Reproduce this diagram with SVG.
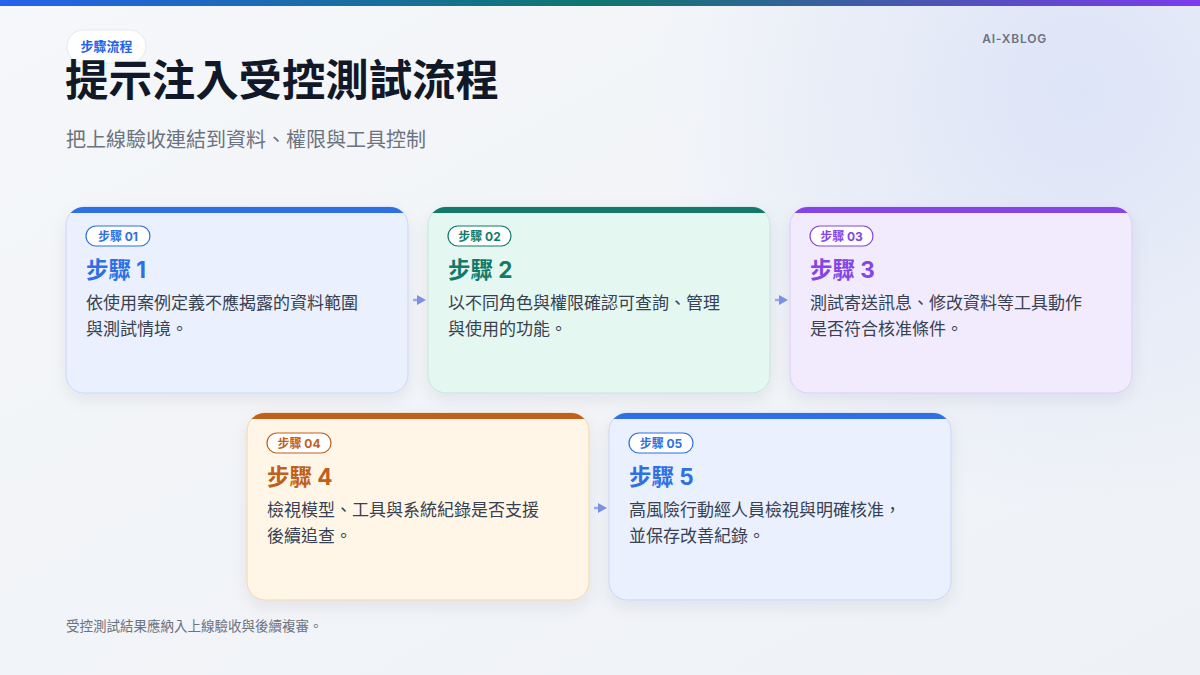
<svg xmlns="http://www.w3.org/2000/svg" width="1200" height="675" viewBox="0 0 1200 675">
<defs>
<linearGradient id="topbar" x1="0" y1="0" x2="1" y2="0">
<stop offset="0" stop-color="#2563eb"/>
<stop offset="0.5" stop-color="#0f766e"/>
<stop offset="1" stop-color="#7c3aed"/>
</linearGradient>
<linearGradient id="bg" x1="0" y1="0" x2="1" y2="1">
<stop offset="0" stop-color="#f5f7fa"/>
<stop offset="1" stop-color="#eef1f6"/>
</linearGradient>
<radialGradient id="glow" cx="1080" cy="90" r="420" gradientUnits="userSpaceOnUse">
<stop offset="0" stop-color="#dde4f7" stop-opacity="1"/>
<stop offset="1" stop-color="#dde4f7" stop-opacity="0"/>
</radialGradient>
<filter id="shadow" x="-10%" y="-10%" width="120%" height="130%">
<feDropShadow dx="0" dy="6" stdDeviation="8" flood-color="#1e293b" flood-opacity="0.07"/>
</filter>
<clipPath id="c1"><rect x="66" y="207" width="342" height="186" rx="18"/></clipPath>
<clipPath id="c2"><rect x="428" y="207" width="342" height="186" rx="18"/></clipPath>
<clipPath id="c3"><rect x="790" y="207" width="342" height="186" rx="18"/></clipPath>
<clipPath id="c4"><rect x="247" y="413" width="342" height="187" rx="18"/></clipPath>
<clipPath id="c5"><rect x="609" y="413" width="342" height="187" rx="18"/></clipPath>
</defs>
<style>
text { font-family: Inter, "Noto Sans CJK TC", "Noto Sans", sans-serif; }
.title { font-size: 43.4px; font-weight: 700; fill: #111827; }
.sub { font-size: 20px; fill: #6b7280; }
.brand { font-size: 12px; font-weight: 600; fill: #6b7280; letter-spacing: 0.8px; }
.foot { font-size: 13.5px; fill: #6b7280; }
.badge-bg { fill: #ffffff; stroke-width: 1.2; }
.badge { font-size: 12px; font-weight: 700; }
.h { font-size: 22.5px; font-weight: 700; }
.body { font-size: 17px; fill: #374151; }
.arrow { fill: #7b8fe6; }
.arrowline { stroke: #97aaee; stroke-width: 2.5; }
</style>
<rect x="0" y="0" width="1200" height="675" fill="url(#bg)"/>
<rect x="0" y="0" width="1200" height="675" fill="url(#glow)"/>
<rect x="0" y="0" width="1200" height="6" fill="url(#topbar)"/>

<g id="header">
<rect x="67" y="30" width="79" height="33" rx="16.5" fill="#ffffff" stroke="#e3e8f2" stroke-width="1"/>
<text x="106.5" y="51" text-anchor="middle" font-size="13" font-weight="700" fill="#2563eb">步驟流程</text>
<text class="title" x="65" y="96">提示注入受控測試流程</text>
<text class="sub" x="66" y="147">把上線驗收連結到資料、權限與工具控制</text>
<text class="brand" x="1047" y="43" text-anchor="end">AI-XBLOG</text>
</g>

<g id="step1">
<rect x="66" y="207" width="342" height="186" rx="18" fill="#eaf0fe" stroke="#c9d6f6" stroke-width="1" filter="url(#shadow)"/>
<rect x="66" y="207" width="342" height="6" fill="#2f6fe4" clip-path="url(#c1)"/>
<rect class="badge-bg" x="86" y="226" width="64" height="20" rx="10" stroke="#2f6fe4"/>
<text class="badge" x="118" y="240.5" text-anchor="middle" fill="#2f6fe4">步驟 01</text>
<text class="h" x="86" y="278" fill="#2f6fe4">步驟 1</text>
<text class="body" x="86" y="309">依使用案例定義不應揭露的資料範圍</text>
<text class="body" x="86" y="335">與測試情境。</text>
</g>

<g id="step2">
<rect x="428" y="207" width="342" height="186" rx="18" fill="#e5f7f1" stroke="#bfe5da" stroke-width="1" filter="url(#shadow)"/>
<rect x="428" y="207" width="342" height="6" fill="#137a69" clip-path="url(#c2)"/>
<rect class="badge-bg" x="448" y="226" width="63" height="20" rx="10" stroke="#137a69"/>
<text class="badge" x="479.5" y="240.5" text-anchor="middle" fill="#137a69">步驟 02</text>
<text class="h" x="448" y="278" fill="#137a69">步驟 2</text>
<text class="body" x="448" y="309">以不同角色與權限確認可查詢、管理</text>
<text class="body" x="448" y="335">與使用的功能。</text>
</g>

<g id="step3">
<rect x="790" y="207" width="342" height="186" rx="18" fill="#f2ebfe" stroke="#d9ccf7" stroke-width="1" filter="url(#shadow)"/>
<rect x="790" y="207" width="342" height="6" fill="#8444e8" clip-path="url(#c3)"/>
<rect class="badge-bg" x="810" y="226" width="63" height="20" rx="10" stroke="#8444e8"/>
<text class="badge" x="841.5" y="240.5" text-anchor="middle" fill="#8444e8">步驟 03</text>
<text class="h" x="810" y="278" fill="#8444e8">步驟 3</text>
<text class="body" x="810" y="309">測試寄送訊息、修改資料等工具動作</text>
<text class="body" x="810" y="335">是否符合核准條件。</text>
</g>

<g id="step4">
<rect x="247" y="413" width="342" height="187" rx="18" fill="#fff6e7" stroke="#f3d6a6" stroke-width="1" filter="url(#shadow)"/>
<rect x="247" y="413" width="342" height="6" fill="#c0601c" clip-path="url(#c4)"/>
<rect class="badge-bg" x="267" y="433" width="64" height="20" rx="10" stroke="#c0601c"/>
<text class="badge" x="299" y="447.5" text-anchor="middle" fill="#c0601c">步驟 04</text>
<text class="h" x="267" y="485" fill="#c0601c">步驟 4</text>
<text class="body" x="267" y="516">檢視模型、工具與系統紀錄是否支援</text>
<text class="body" x="267" y="542">後續追查。</text>
</g>

<g id="step5">
<rect x="609" y="413" width="342" height="187" rx="18" fill="#eaf0fe" stroke="#c9d6f6" stroke-width="1" filter="url(#shadow)"/>
<rect x="609" y="413" width="342" height="6" fill="#2f6fe4" clip-path="url(#c5)"/>
<rect class="badge-bg" x="629" y="433" width="64" height="20" rx="10" stroke="#2f6fe4"/>
<text class="badge" x="661" y="447.5" text-anchor="middle" fill="#2f6fe4">步驟 05</text>
<text class="h" x="629" y="485" fill="#2f6fe4">步驟 5</text>
<text class="body" x="629" y="516">高風險行動經人員檢視與明確核准，</text>
<text class="body" x="629" y="542">並保存改善紀錄。</text>
</g>

<g id="connectors">
<line class="arrowline" x1="413" y1="300" x2="419" y2="300"/>
<polygon class="arrow" points="417,295 426,300 417,305"/>
<line class="arrowline" x1="775" y1="300" x2="781" y2="300"/>
<polygon class="arrow" points="779,295 788,300 779,305"/>
<line class="arrowline" x1="594" y1="508" x2="600" y2="508"/>
<polygon class="arrow" points="598,503 607,508 598,513"/>
</g>

<text class="foot" x="66" y="631">受控測試結果應納入上線驗收與後續複審。</text>
</svg>
